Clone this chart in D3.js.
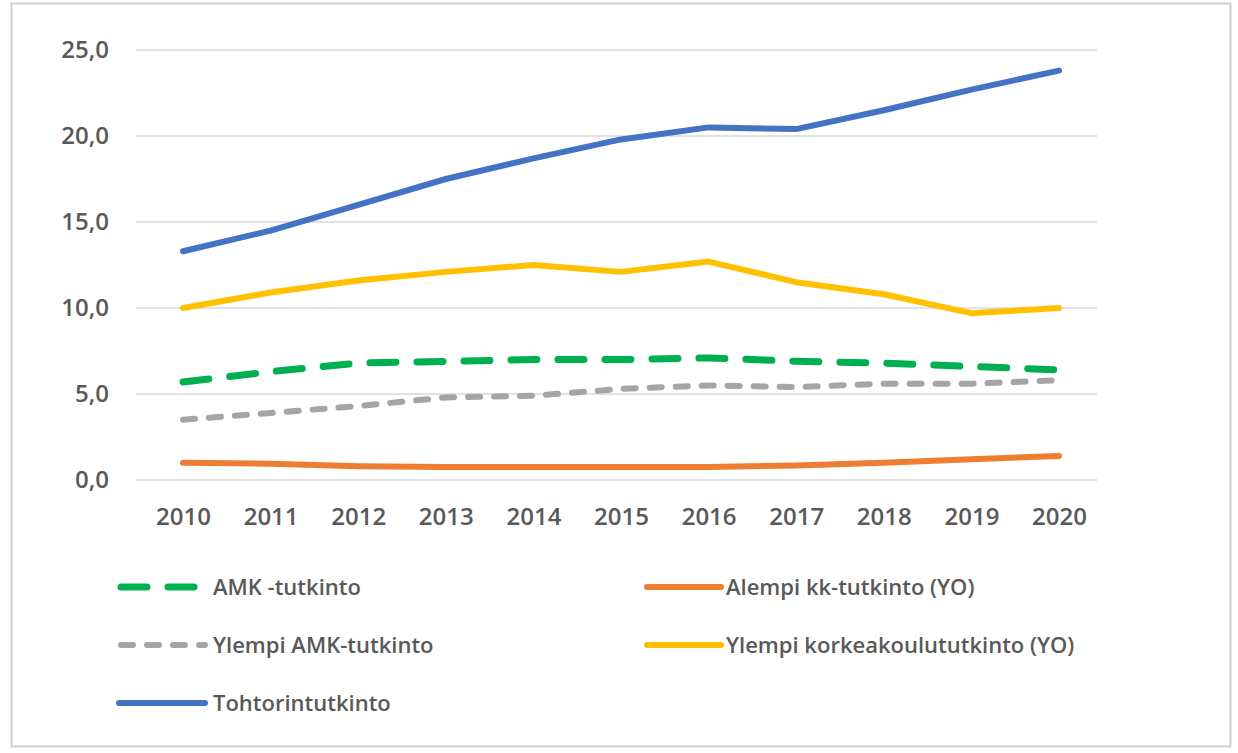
<!DOCTYPE html>
<meta charset="utf-8">
<script src="https://d3js.org/d3.v7.min.js"></script>
<style>
  body { margin: 0; background: #fff; }
</style>
<div id="chart"></div>
<script>

// data
var years = [2010, 2011, 2012, 2013, 2014, 2015, 2016, 2017, 2018, 2019, 2020];
var yTicks = [0, 5, 10, 15, 20, 25];

var amk        = [5.7, 6.3, 6.8, 6.9, 7.0, 7.0, 7.1, 6.9, 6.8, 6.6, 6.4];
var alempi     = [1.0, 0.95, 0.8, 0.75, 0.75, 0.75, 0.75, 0.85, 1.0, 1.2, 1.4];
var ylempiAmk  = [3.5, 3.9, 4.3, 4.8, 4.9, 5.3, 5.5, 5.4, 5.6, 5.6, 5.8];
var ylempiKk   = [10.0, 10.9, 11.6, 12.1, 12.5, 12.1, 12.7, 11.5, 10.8, 9.7, 10.0];
var tohtori    = [13.3, 14.5, 16.0, 17.5, 18.7, 19.8, 20.5, 20.4, 21.5, 22.7, 23.8];

var series = [
  {name: "AMK -tutkinto", values: amk, color: "#00b050", width: 7, dash: "26,21"},
  {name: "Alempi kk-tutkinto (YO)", values: alempi, color: "#ed7d31", width: 6, dash: null},
  {name: "Ylempi AMK-tutkinto", values: ylempiAmk, color: "#a5a5a5", width: 6, dash: "12,14"},
  {name: "Ylempi korkeakoulututkinto (YO)", values: ylempiKk, color: "#ffc000", width: 6, dash: null},
  {name: "Tohtorintutkinto", values: tohtori, color: "#4472c4", width: 6, dash: null}
];

var W = 1238, H = 753;
var font = "'Open Sans', sans-serif";
var svg = d3.select("#chart").append("svg")
  .attr("width", W).attr("height", H);

// outer frame
svg.append("rect")
  .attr("x", 11.5).attr("y", 3.5)
  .attr("width", W - 19).attr("height", H - 10)
  .attr("fill", "#fff").attr("stroke", "#cfcfcf").attr("stroke-width", 2);

var x = d3.scalePoint().domain(years).range([183, 1059]);
var y = d3.scaleLinear().domain([0, 25]).range([480, 50]);

// gridlines
svg.append("g").selectAll("line")
  .data(yTicks)
  .join("line")
    .attr("x1", 136).attr("x2", 1097)
    .attr("y1", function(d) { return y(d); })
    .attr("y2", function(d) { return y(d); })
    .attr("stroke", "#d9d9d9").attr("stroke-width", 1.5);

// y axis labels
var yAxis = svg.append("g")
  .attr("transform", "translate(109,0)")
  .call(d3.axisLeft(y).tickValues(yTicks).tickSize(0)
    .tickFormat(function(d) { return d3.format(".1f")(d).replace(".", ","); }));
yAxis.select(".domain").remove();
yAxis.selectAll("text").attr("x", 0);

// x axis labels
var xAxis = svg.append("g")
  .attr("transform", "translate(0,505)")
  .call(d3.axisBottom(x).tickSize(0));
xAxis.select(".domain").remove();

svg.selectAll(".tick text")
  .attr("fill", "#595959")
  .style("font-family", font)
  .style("font-weight", 600)
  .style("font-size", "24px");

var line = d3.line()
  .x(function(d, i) { return x(years[i]); })
  .y(function(d) { return y(d); });

// draw in order so blue ends on top
svg.append("g").selectAll("path")
  .data(series)
  .join("path")
    .attr("d", function(s) { return line(s.values); })
    .attr("fill", "none")
    .attr("stroke", function(s) { return s.color; })
    .attr("stroke-width", function(s) { return s.width; })
    .attr("stroke-dasharray", function(s) { return s.dash; })
    .attr("stroke-linecap", "round")
    .attr("stroke-linejoin", "round");

// legend
var legendPos = [
  {lx: 117, ly: 587},
  {lx: 645, ly: 587},
  {lx: 117, ly: 645},
  {lx: 645, ly: 645},
  {lx: 117, ly: 703}
];
var leg = svg.append("g").selectAll("g")
  .data(series)
  .join("g")
    .attr("transform", function(s, i) { return "translate(" + legendPos[i].lx + "," + legendPos[i].ly + ")"; });

leg.append("line")
  .attr("x1", function(s) { return s.dash ? 4 : 2; })
  .attr("x2", function(s, i) { return i % 2 === 1 ? 76 : 88; })
  .attr("y1", 0).attr("y2", 0)
  .attr("stroke", function(s) { return s.color; })
  .attr("stroke-width", function(s) { return s.width; })
  .attr("stroke-dasharray", function(s) { return s.dash; })
  .attr("stroke-linecap", "round");

leg.append("text")
  .attr("x", function(s, i) { return i % 2 === 1 ? 81 : 96; })
  .attr("y", 0)
  .attr("dy", "0.35em")
  .style("font-family", font)
  .style("font-weight", 600)
  .style("font-size", "22px")
  .attr("fill", "#595959")
  .text(function(s) { return s.name; });

</script>
